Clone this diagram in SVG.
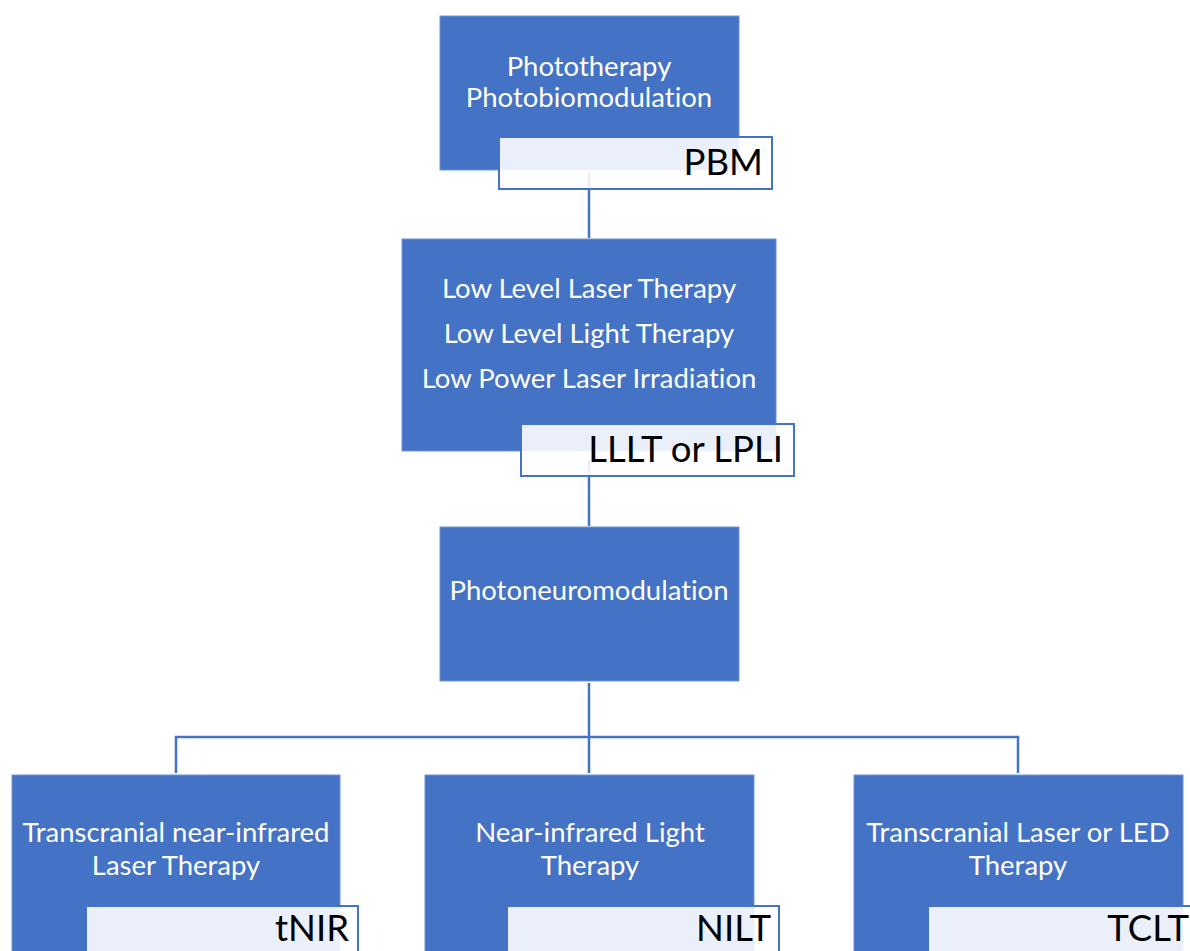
<svg xmlns="http://www.w3.org/2000/svg" width="1190" height="951" viewBox="0 0 1190 951">
<style>
.box{fill:#4472c4;stroke:#6f93d3;stroke-width:1}
.lab{fill:#ffffff;fill-opacity:0.89;stroke:#4472c4;stroke-width:2}
.t{font-family:Lato,"Liberation Sans",sans-serif;font-size:27.5px;fill:#ffffff;text-anchor:middle;font-variant-ligatures:none}
.a{font-family:Lato,"Liberation Sans",sans-serif;font-size:36.5px;fill:#000000;text-anchor:end;font-variant-ligatures:none}
.c{fill:none;stroke:#4472c4;stroke-width:2.5}
</style>
<rect width="1190" height="951" fill="#ffffff"/>
<g id="connectors">
<path class="c" d="M589 172V238"/>
<path class="c" d="M589 460V526"/>
<path class="c" d="M589 683V737"/>
<path class="c" d="M176 773V737H1018V773"/>
<path class="c" d="M589 737V773"/>
</g>
<g id="pbm">
<rect class="box" x="440" y="16" width="299" height="154"/>
<text class="t" x="589" y="76">Phototherapy</text>
<text class="t" x="589" y="107">Photobiomodulation</text>
<rect class="lab" x="499" y="137" width="273" height="52"/>
<text class="a" x="763" y="175">PBM</text>
</g>
<g id="lllt">
<rect class="box" x="402" y="239" width="374" height="212"/>
<text class="t" x="589" y="298">Low Level Laser Therapy</text>
<text class="t" x="589" y="343">Low Level Light Therapy</text>
<text class="t" x="589" y="388">Low Power Laser Irradiation</text>
<rect class="lab" x="521" y="424" width="273" height="52"/>
<text class="a" x="783" y="462">LLLT or LPLI</text>
</g>
<g id="pnm">
<rect class="box" x="440" y="527" width="299" height="154"/>
<text class="t" x="589" y="600">Photoneuromodulation</text>
</g>
<g id="tnir">
<rect class="box" x="12" y="775" width="328" height="190"/>
<text class="t" x="176" y="842">Transcranial near-infrared</text>
<text class="t" x="176" y="875">Laser Therapy</text>
<rect class="lab" x="86" y="906" width="272" height="60"/>
<text class="a" x="349" y="941">tNIR</text>
</g>
<g id="nilt">
<rect class="box" x="425" y="775" width="329" height="190"/>
<text class="t" x="590" y="842">Near-infrared Light</text>
<text class="t" x="590" y="875">Therapy</text>
<rect class="lab" x="507" y="906" width="272" height="60"/>
<text class="a" x="771" y="941">NILT</text>
</g>
<g id="tclt">
<rect class="box" x="854" y="775" width="329" height="190"/>
<text class="t" x="1018" y="842">Transcranial Laser or LED</text>
<text class="t" x="1018" y="875">Therapy</text>
<rect class="lab" x="928" y="906" width="272" height="60"/>
<text class="a" x="1189" y="941">TCLT</text>
</g>
</svg>
